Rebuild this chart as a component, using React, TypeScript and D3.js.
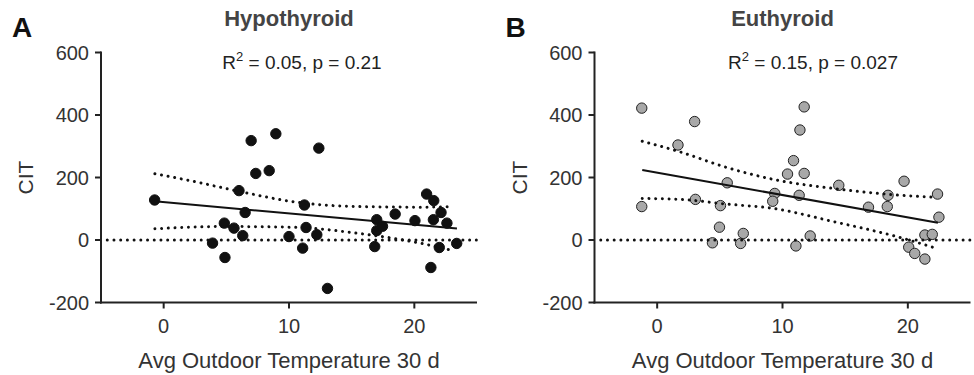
import React from "react";
import * as d3 from "d3";

// ---------- DATA ----------
const hypoX = [-0.72, 6.98, 8.95, 12.38, 7.35, 8.42, 6.01, 6.5, 11.23, 4.84, 5.61, 6.31, 3.9, 4.89, 10.0, 11.36, 12.22, 11.09, 13.07, 17.0, 17.0, 17.46, 16.84, 18.47, 20.05, 20.98, 21.55, 22.13, 21.52, 22.6, 21.99, 21.32, 23.38];
const hypoY = [128, 318, 340, 294, 213, 222, 158, 88, 112, 54, 38, 14, -10, -56, 11, 40, 17, -26, -155, 65, 30, 44, -21, 83, 62, 147, 126, 88, 65, 54, -24, -88, -11];
const hypoFitX = [-0.5, 23.4];
const hypoFitY = [123, 37];
const hypoBandX = [-0.7, 2.1, 6.1, 10.1, 15.4, 20.7, 23.1];
const hypoUpper = [212, 190, 155, 124, 107, 105, 107];
const hypoLowerX = [-0.7, 4.76, 10.1, 15.4, 20.7, 23.1];
const hypoLower = [36, 43, 41, 22, -12, -34];

const euX = [-1.23, -1.23, 2.99, 1.66, 3.05, 5.59, 5.05, 4.97, 4.41, 6.87, 6.66, 9.38, 9.22, 10.88, 10.4, 11.73, 11.39, 11.73, 11.33, 11.07, 12.21, 14.49, 16.86, 18.42, 18.36, 19.7, 22.37, 22.48, 21.36, 21.95, 20.07, 20.55, 21.36];
const euY = [422, 107, 379, 304, 130, 183, 110, 41, -9, 21, -11, 149, 124, 254, 211, 426, 352, 213, 143, -19, 13, 175, 105, 143, 107, 188, 147, 73, 16, 18, -23, -43, -61];
const euFitX = [-1.19, 22.4];
const euFitY = [224, 55];
const euBandX = [-1.19, 1.82, 5.55, 9.27, 14.05, 19.1, 22.0];
const euUpper = [316, 282, 232, 194, 165, 144, 137];
const euLowerX = [-1.19, 1.82, 5.55, 9.27, 14.05, 19.1, 22.3];
const euLower = [133, 130, 115, 101, 59, 11, -27];

const xTicks = [0, 10, 20];
const yTicks = [-200, 0, 200, 400, 600];
const xDomain = [-5, 25];
const yDomain = [-200, 600];

const FONT = "'Liberation Sans', Arial, Helvetica, sans-serif";

type PanelProps = {
  letter: string;
  title: string;
  r2: string;
  p: string;
  left: number;
  statX: number;
  xs: number[];
  ys: number[];
  fitX: number[];
  fitY: number[];
  upX: number[];
  up: number[];
  loX: number[];
  lo: number[];
  fill: string;
  stroke: string;
};

function Panel(props: PanelProps) {
  const { letter, title, r2, p, left, statX, xs, ys, fitX, fitY, upX, up, loX, lo, fill, stroke } = props;
  const right = left + 376;
  const top = 52.5;
  const bottom = 302.5;
  const x = d3.scaleLinear().domain(xDomain).range([left, right]);
  const y = d3.scaleLinear().domain(yDomain).range([bottom, top]);
  const line = d3
    .line<[number, number]>()
    .x((d) => x(d[0]))
    .y((d) => y(d[1]))
    .curve(d3.curveMonotoneX);
  const straight = d3
    .line<[number, number]>()
    .x((d) => x(d[0]))
    .y((d) => y(d[1]));
  const fit = straight(fitX.map((v, i) => [v, fitY[i]] as [number, number])) || "";
  const upper = line(upX.map((v, i) => [v, up[i]] as [number, number])) || "";
  const lower = line(loX.map((v, i) => [v, lo[i]] as [number, number])) || "";
  const zero = straight([[xDomain[0] + 0.5, 0], [xDomain[1], 0]]) || "";
  const cx = (left + right) / 2;
  const dotted = { fill: "none", stroke: "#111", strokeWidth: 3, strokeDasharray: "0.01 6.7", strokeLinecap: "round" as const };
  return (
    <g fontFamily={FONT}>
      <text x={left - 89} y={37} fontSize={28} fontWeight="bold" fill="#111">{letter}</text>
      <text x={cx} y={26} fontSize={22} fontWeight="bold" fill="#444" textAnchor="middle">{title}</text>
      <text x={statX} y={69} fontSize={19} fill="#222" textAnchor="middle">
        R<tspan fontSize={13} dy={-8}>2</tspan>
        <tspan dy={8}>{` = ${r2}, p = ${p}`}</tspan>
      </text>
      {/* points */}
      {xs.map((v, i) => (
        <circle key={i} cx={x(v)} cy={y(ys[i])} r={5.2} fill={fill} stroke={stroke} strokeWidth={1} />
      ))}
      {/* lines */}
      <path d={zero} {...dotted} />
      <path d={upper} {...dotted} />
      <path d={lower} {...dotted} />
      <path d={fit} fill="none" stroke="#111" strokeWidth={2} />
      {/* axes */}
      <line x1={left} x2={left} y1={top - 1} y2={bottom + 1} stroke="#222" strokeWidth={2} />
      <line x1={left - 1} x2={right} y1={bottom} y2={bottom} stroke="#222" strokeWidth={2} />
      {yTicks.map((t) => (
        <g key={"y" + t}>
          <line x1={left - 6} x2={left} y1={y(t)} y2={y(t)} stroke="#222" strokeWidth={2} />
          <text x={left - 12} y={y(t)} dy="0.36em" fontSize={20} fill="#333" textAnchor="end">{t}</text>
        </g>
      ))}
      {xTicks.map((t) => (
        <g key={"x" + t}>
          <line x1={x(t)} x2={x(t)} y1={bottom} y2={bottom + 6} stroke="#222" strokeWidth={2} />
          <text x={x(t)} y={333} fontSize={20} fill="#333" textAnchor="middle">{t}</text>
        </g>
      ))}
      <text x={cx} y={368} fontSize={22} fill="#333" textAnchor="middle">Avg Outdoor Temperature 30 d</text>
      <text transform={`translate(${left - 68},${(top + bottom) / 2}) rotate(-90)`} fontSize={21} fill="#333" textAnchor="middle">CIT</text>
    </g>
  );
}

export default function App() {
  return (
    <svg width={974} height={375} style={{ position: "absolute", left: 0, top: 0, background: "#fff" }}>
      <rect width={974} height={375} fill="#fff" />
      <Panel letter="A" title="Hypothyroid" r2="0.05" p="0.21" left={101} statX={302}
        xs={hypoX} ys={hypoY} fitX={hypoFitX} fitY={hypoFitY}
        upX={hypoBandX} up={hypoUpper} loX={hypoLowerX} lo={hypoLower} fill="#111" stroke="#111" />
      <Panel letter="B" title="Euthyroid" r2="0.15" p="0.027" left={594.5} statX={813}
        xs={euX} ys={euY} fitX={euFitX} fitY={euFitY}
        upX={euBandX} up={euUpper} loX={euLowerX} lo={euLower} fill="#a8a8a8" stroke="#222" />
    </svg>
  );
}
